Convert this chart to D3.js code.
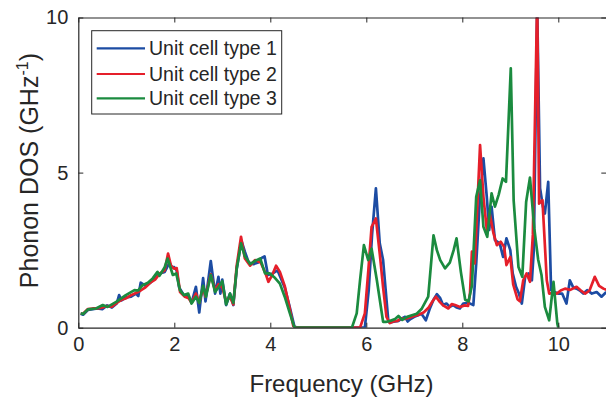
<!DOCTYPE html>
<html><head><meta charset="utf-8">
<script src="https://cdn.jsdelivr.net/npm/d3@7"></script>
<style>body{margin:0;background:#fff;}svg{display:block;font-family:"Liberation Sans",Arial,sans-serif;}</style>
</head><body>
<svg id="c" width="606" height="399"></svg>
<script>
const seriesNames = ["Unit cell type 1", "Unit cell type 2", "Unit cell type 3"];
const xTicks = [0, 2, 4, 6, 8, 10];
const yTicks = [0, 5, 10];
const xLabel = "Frequency (GHz)";

// [frequency GHz, DOS]
const type1 = [[0.05,0.45],[0.1,0.42],[0.2,0.57],[0.3,0.6],[0.4,0.62],[0.5,0.6],[0.6,0.72],[0.7,0.65],[0.8,0.78],[0.85,1.05],[0.9,0.88],[1.0,0.98],[1.1,1.0],[1.2,1.1],[1.25,1.02],[1.3,1.45],[1.4,1.35],[1.5,1.45],[1.6,1.62],[1.7,1.75],[1.8,1.8],[1.9,2.1],[1.95,1.95],[2.0,1.95],[2.05,1.85],[2.1,1.3],[2.2,1.05],[2.3,1.0],[2.36,0.8],[2.45,1.32],[2.52,0.49],[2.6,1.6],[2.65,0.85],[2.76,2.15],[2.85,1.1],[2.92,1.64],[2.96,1.1],[3.0,1.55],[3.08,0.73],[3.16,1.1],[3.23,0.73],[3.3,1.9],[3.4,2.8],[3.47,2.45],[3.55,2.1],[3.65,2.05],[3.75,2.1],[3.82,2.25],[3.88,2.3],[3.95,1.7],[4.05,1.75],[4.15,1.85],[4.3,1.3],[4.4,0.7],[4.5,0.05],[4.55,0],[5.0,0],[5.5,0],[5.97,0],[6.05,1.2],[6.12,3.0],[6.2,4.49],[6.28,2.72],[6.35,2.18],[6.46,0.19],[6.52,0.18],[6.6,0.2],[6.67,0.22],[6.74,0.3],[6.81,0.35],[6.86,0.2],[6.92,0.28],[7.0,0.35],[7.08,0.4],[7.15,0.45],[7.24,0.24],[7.32,0.6],[7.4,0.9],[7.47,1.08],[7.54,0.95],[7.6,0.73],[7.67,0.78],[7.74,0.67],[7.81,0.73],[7.88,0.65],[7.95,0.62],[8.02,0.78],[8.13,0.8],[8.23,0.73],[8.29,2.07],[8.36,4.0],[8.44,5.46],[8.51,4.22],[8.56,3.15],[8.61,3.9],[8.68,2.82],[8.78,2.72],[8.85,2.28],[8.92,2.88],[9.0,2.5],[9.05,1.75],[9.12,1.32],[9.18,1.1],[9.24,0.78],[9.31,1.64],[9.38,1.75],[9.45,1.53],[9.49,2.5],[9.56,10.4],[9.62,4.5],[9.68,3.9],[9.72,3.68],[9.79,4.7],[9.85,1.21],[9.92,1.15],[10.0,1.1],[10.08,1.1],[10.17,0.78],[10.24,1.53],[10.31,1.3],[10.38,1.26],[10.45,1.2],[10.52,1.1],[10.6,1.21],[10.7,1.1],[10.8,1.15],[10.9,1.0],[11.0,1.15]];

const type2 = [[0.05,0.45],[0.1,0.45],[0.2,0.6],[0.3,0.62],[0.4,0.62],[0.5,0.65],[0.6,0.7],[0.7,0.68],[0.8,0.8],[0.9,0.9],[1.0,0.95],[1.1,1.05],[1.2,1.12],[1.3,1.2],[1.4,1.3],[1.5,1.45],[1.6,1.55],[1.7,1.75],[1.8,1.85],[1.87,2.39],[1.93,2.0],[2.0,1.9],[2.05,1.92],[2.12,1.15],[2.22,1.0],[2.3,0.95],[2.36,0.8],[2.45,1.1],[2.52,0.8],[2.6,1.3],[2.65,1.0],[2.76,1.72],[2.85,1.2],[2.92,1.4],[3.0,1.3],[3.08,0.85],[3.16,1.0],[3.23,0.75],[3.3,2.0],[3.39,2.93],[3.47,2.23],[3.58,2.0],[3.68,2.18],[3.8,2.1],[3.9,1.75],[3.96,1.48],[4.04,1.7],[4.12,2.0],[4.2,1.8],[4.3,1.35],[4.4,0.65],[4.48,0.05],[4.55,0],[5.0,0],[5.5,0],[5.87,0],[5.97,0.46],[6.04,1.8],[6.11,3.25],[6.2,3.52],[6.28,2.39],[6.35,1.3],[6.42,0.35],[6.49,0.15],[6.56,0.2],[6.65,0.22],[6.72,0.3],[6.8,0.28],[6.9,0.32],[7.0,0.38],[7.1,0.42],[7.2,0.5],[7.3,0.65],[7.38,0.85],[7.45,1.0],[7.52,0.85],[7.6,0.72],[7.71,0.62],[7.78,0.76],[7.85,0.73],[7.95,0.67],[8.05,0.72],[8.12,0.7],[8.16,1.1],[8.2,2.45],[8.26,2.07],[8.37,5.89],[8.44,4.22],[8.51,3.15],[8.57,3.68],[8.65,3.04],[8.72,2.66],[8.8,2.77],[8.87,2.61],[8.92,2.02],[9.0,2.28],[9.06,1.4],[9.15,0.92],[9.2,0.85],[9.27,1.53],[9.34,1.75],[9.41,1.48],[9.47,3.0],[9.56,10.6],[9.6,4.0],[9.67,4.11],[9.76,1.53],[9.81,1.1],[9.9,1.12],[9.97,1.1],[10.05,1.2],[10.14,1.26],[10.25,1.22],[10.38,1.32],[10.47,1.2],[10.56,1.1],[10.65,1.2],[10.76,1.64],[10.85,1.35],[10.94,1.26],[11.0,1.22]];

const type3 = [[0.05,0.46],[0.1,0.44],[0.2,0.59],[0.37,0.62],[0.51,0.73],[0.61,0.67],[0.79,0.83],[0.99,1.05],[1.17,1.21],[1.25,1.2],[1.34,1.37],[1.45,1.45],[1.55,1.59],[1.65,1.8],[1.69,1.67],[1.8,1.95],[1.86,2.23],[1.97,1.7],[2.04,1.75],[2.12,1.2],[2.2,1.05],[2.29,1.1],[2.36,0.78],[2.45,1.0],[2.52,0.8],[2.6,1.35],[2.66,1.0],[2.76,1.7],[2.85,1.15],[2.92,1.3],[3.0,1.5],[3.08,0.75],[3.16,1.1],[3.23,0.8],[3.3,1.9],[3.39,2.72],[3.47,2.3],[3.58,2.05],[3.68,2.15],[3.79,2.23],[3.89,1.75],[3.99,1.75],[4.1,1.6],[4.2,1.42],[4.3,1.0],[4.4,0.5],[4.5,0.02],[4.55,0],[5.0,0],[5.7,0],[5.8,0.46],[5.87,1.53],[5.95,2.66],[6.04,2.18],[6.11,2.55],[6.22,1.53],[6.35,0.19],[6.42,0.19],[6.5,0.22],[6.6,0.28],[6.67,0.38],[6.75,0.25],[6.85,0.35],[6.95,0.4],[7.05,0.45],[7.15,0.6],[7.22,0.8],[7.29,1.0],[7.4,2.98],[7.47,2.5],[7.54,2.18],[7.64,1.91],[7.74,2.1],[7.82,2.5],[7.88,2.88],[7.97,1.8],[8.06,0.9],[8.13,0.85],[8.2,1.35],[8.29,4.22],[8.37,4.75],[8.44,3.25],[8.52,2.93],[8.61,4.33],[8.68,3.9],[8.76,4.3],[8.84,4.81],[8.91,4.7],[9.01,8.36],[9.07,4.1],[9.17,1.96],[9.25,1.64],[9.33,4.05],[9.41,4.84],[9.5,3.2],[9.58,2.2],[9.65,1.7],[9.72,0.67],[9.81,0.24],[9.9,1.48],[9.98,0.13],[10.0,0]];

const colors = ["#1c4ca3", "#e51f2a", "#1b8b3f"];
const seriesData = [type1, type2, type3];

const svg = d3.select("#c");
const L = 78.3, R = 606.3, T = 17.5, B = 327.7;
const x = d3.scaleLinear().domain([0, 11]).range([L, R]);
const y = d3.scaleLinear().domain([0, 10]).range([B, T]);
const ink = "#262626";

svg.append("defs").append("clipPath").attr("id", "clip")
  .append("rect").attr("x", L).attr("y", T).attr("width", R - L).attr("height", B - T);

const line = d3.line().x(d => x(d[0])).y(d => y(d[1]));
const g = svg.append("g").attr("clip-path", "url(#clip)");
seriesData.forEach((s, i) => {
  g.append("path").datum(s).attr("d", line).attr("fill", "none")
    .attr("stroke", colors[i]).attr("stroke-width", 2.7).attr("stroke-linejoin", "round");
});

// axes
const fs = 20;
const xb = svg.append("g").attr("transform", `translate(0,${B})`)
  .call(d3.axisBottom(x).tickValues(xTicks).tickSizeInner(-5).tickSizeOuter(0).tickPadding(17).tickFormat(d3.format("d")));
const xt = svg.append("g").attr("transform", `translate(0,${T})`)
  .call(d3.axisTop(x).tickValues(xTicks).tickSizeInner(-5).tickSizeOuter(0).tickFormat(""));
const yl = svg.append("g").attr("transform", `translate(${L},0)`)
  .call(d3.axisLeft(y).tickValues(yTicks).tickSizeInner(-5).tickSizeOuter(0).tickPadding(10).tickFormat(d3.format("d")));
const yr = svg.append("g").attr("transform", `translate(${R},0)`)
  .call(d3.axisRight(y).tickValues(yTicks).tickSizeInner(-5).tickSizeOuter(0).tickFormat(""));
[xb, xt, yl, yr].forEach(a => {
  a.select(".domain").attr("stroke", ink).attr("stroke-width", 1.2);
  a.selectAll(".tick line").attr("stroke", ink).attr("stroke-width", 1);
  a.selectAll("text").attr("fill", ink).attr("font-size", fs).attr("font-family", "Liberation Sans, Arial, sans-serif");
});
xb.selectAll("text").attr("dy", "0.3em");

svg.append("text").attr("x", 341.5).attr("y", 392).attr("text-anchor", "middle")
  .attr("fill", ink).attr("font-size", 24).text(xLabel);

const ylab = svg.append("text").attr("transform", `translate(38,${(T + B) / 2 - 2}) rotate(-90)`)
  .attr("text-anchor", "middle").attr("fill", ink).attr("font-size", 25);
ylab.append("tspan").text("Phonon DOS (GHz");
ylab.append("tspan").attr("font-size", 16).attr("dy", -10).text("-1");
ylab.append("tspan").attr("dy", 10).text(")");

// legend
const lg = svg.append("g");
lg.append("rect").attr("x", 91.7).attr("y", 30.7).attr("width", 190).attr("height", 83.3)
  .attr("fill", "#fff").attr("stroke", ink).attr("stroke-width", 1);
const rows = [48.3, 74, 98.3];
seriesNames.forEach((n, i) => {
  lg.append("line").attr("x1", 96.7).attr("x2", 145).attr("y1", rows[i]).attr("y2", rows[i])
    .attr("stroke", colors[i]).attr("stroke-width", 2.2);
  lg.append("text").attr("x", 149).attr("y", rows[i] + 7).attr("fill", ink)
    .attr("font-size", 19.5).text(n);
});
</script>
</body></html>
